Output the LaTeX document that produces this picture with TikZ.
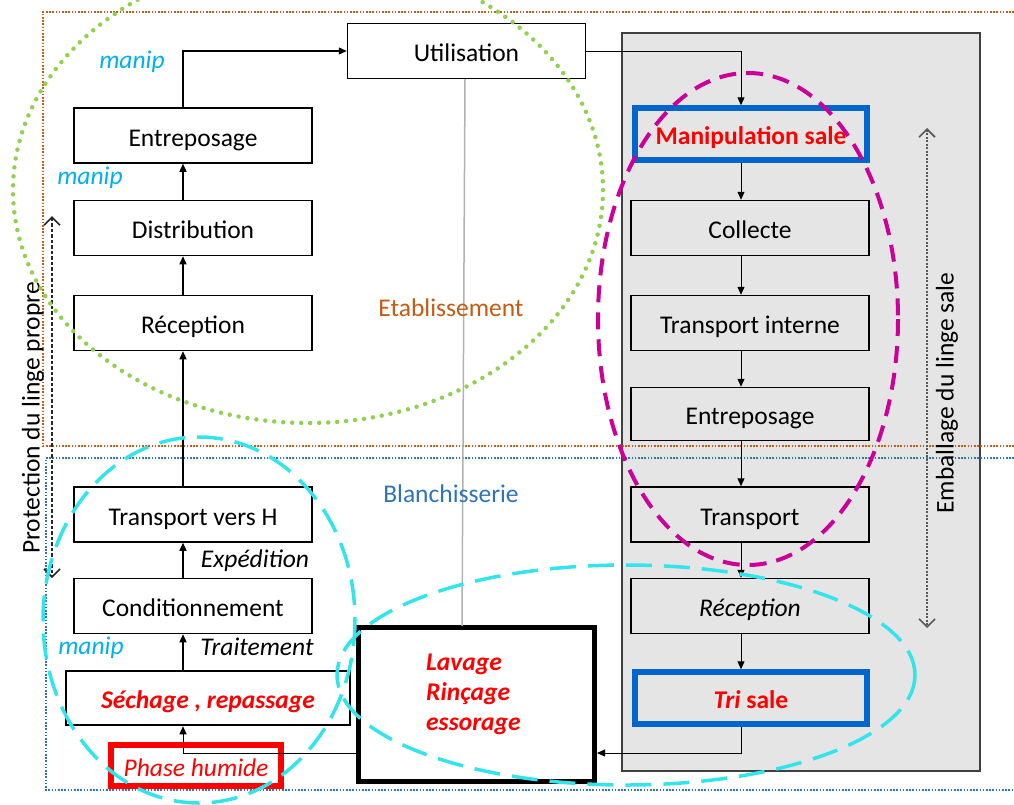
\documentclass[tikz,border=0pt]{standalone}
\usepackage{fontspec}
\setmainfont{Carlito}
\usetikzlibrary{arrows.meta}
\definecolor{manipc}{RGB}{0,176,240}
\definecolor{etabc}{RGB}{197,90,17}
\definecolor{blanc}{RGB}{46,116,181}
\definecolor{boxblue}{RGB}{0,102,204}
\definecolor{magc}{RGB}{204,0,153}
\definecolor{cyanc}{RGB}{50,228,236}
\definecolor{greenc}{RGB}{146,208,80}
\definecolor{panelc}{RGB}{229,229,229}
\definecolor{redc}{RGB}{255,0,0}
\newcommand\fsz{\fontsize{25.5}{30}\selectfont}
\tikzset{
  stepbox/.style={draw=black, line width=1.5pt, minimum width=238pt, minimum height=55pt, inner sep=0pt, font=\fsz, text height=21pt, text depth=0pt},
  leftbox/.style={stepbox, fill=white},
  rightbox/.style={stepbox},
  bluebox/.style={draw=boxblue, line width=5.5pt, minimum width=232pt, minimum height=52pt, inner sep=0pt, font=\fsz\bfseries, text=redc, text height=21pt, text depth=0pt},
  arr/.style={-{Triangle[length=8pt,width=7pt]}, line width=1.3pt},
  arrthin/.style={-{Triangle[length=8pt,width=7pt]}, line width=1pt},
  lbl/.style={font=\fsz, inner sep=0pt},
  manip/.style={lbl, text=manipc, font=\fsz\itshape},
  frame/.style={line width=2pt, dash pattern=on 1.6pt off 1.6pt},
  barbs/.style={{Straight Barb[length=8pt,width=16pt,line width=1.6pt]}-{Straight Barb[length=8pt,width=16pt,line width=1.6pt]}},
}
\begin{document}
\begin{tikzpicture}[x=1pt,y=-1pt]
\useasboundingbox (0,0) rectangle (1014,804);
% grey panel
\draw[line width=1.5pt, draw=black!75, fill=panelc] (622,33) rectangle (980,771);
% frames
\draw[etabc, frame] (1014,12) -- (43,12) -- (43,446) -- (1014,446);
\draw[blanc, frame] (1014,458) -- (46,458) -- (46,790) -- (1014,790);
% column coordinates
\coordinate (Lc) at (183,0);
\coordinate (Rc) at (741,0);
% left boxes
\node[leftbox] (util) at (466.5,51) {Utilisation};
\node[leftbox] (entrL) at (193,135.5) {Entreposage};
\node[leftbox] (distr) at (193,228) {Distribution};
\node[leftbox] (recL) at (193,323) {Réception};
\node[leftbox] (trH) at (193,514.5) {Transport vers H};
\node[leftbox] (cond) at (193,606) {Conditionnement};
\node[leftbox, line width=2.5pt, minimum width=284pt, minimum height=54pt, font=\fsz\bfseries\itshape, text=redc] (sech) at (208,698) {Séchage , repassage};
\node[draw=redc, line width=6pt, fill=white, minimum width=170pt, minimum height=41pt, inner sep=0pt, font=\fsz\itshape, text=redc, text height=21pt, text depth=0pt] (phase) at (196,765.5) {Phase humide};
\node[draw=black, line width=5pt, fill=white, minimum width=236pt, minimum height=154pt, inner sep=0pt] (lav) at (476.5,704.5) {};
\node[anchor=west, align=left, inner sep=0pt, font=\fontsize{25.5}{30}\selectfont\bfseries\itshape, text=redc] (lavt) at (426,694) {Lavage\\Rinçage\\essorage};
% right boxes
\node[bluebox] (manS) at (751,134) {Manipulation sale};
\node[rightbox] (coll) at (750,228) {Collecte};
\node[rightbox] (trI) at (750,323) {Transport interne};
\node[rightbox, minimum height=53pt] (entrR) at (750,414) {Entreposage};
\node[rightbox] (trR) at (750,514.5) {Transport};
\node[rightbox, font=\fsz\itshape] (recR) at (750,606) {Réception};
\node[bluebox] (tri) at (751,698) {\textit{Tri} sale};
% gray link
\coordinate (gtop) at (465,79);
\coordinate (gbot) at (462,626);
\draw[black!30, line width=1.5pt] (gtop) -- (gbot);
% left column arrows
\draw[arr] (distr.north -| Lc) -- (entrL.south -| Lc);
\draw[arr] (recL.north -| Lc) -- (distr.south -| Lc);
\draw[arr] (trH.north -| Lc) -- (recL.south -| Lc);
\draw[arr] (cond.north -| Lc) -- (trH.south -| Lc);
\draw[arr] (sech.north -| Lc) -- (cond.south -| Lc);
\coordinate (uturn) at (183,51);
\draw[arr] (entrL.north -| Lc) -- (uturn) -- (util.west);
\coordinate (lavturn) at (183,753);
\draw[arr, line width=1pt] (lav.west |- lavturn) -- (lavturn) -- (sech.south -| Lc);
% right column arrows
\coordinate (rturn) at (741,51);
\draw[arrthin] (util.east) -- (rturn) -- (manS.north -| Rc);
\draw[arrthin] (manS.south -| Rc) -- (coll.north -| Rc);
\draw[arrthin] (coll.south -| Rc) -- (trI.north -| Rc);
\draw[arrthin] (trI.south -| Rc) -- (entrR.north -| Rc);
\draw[arrthin] (entrR.south -| Rc) -- (trR.north -| Rc);
\draw[arrthin] (trR.south -| Rc) -- (recR.north -| Rc);
\draw[arrthin] (recR.south -| Rc) -- (tri.north -| Rc);
\coordinate (triturn) at (741,753);
\draw[arrthin] (tri.south -| Rc) -- (triturn) -- (lav.east |- triturn);
% labels
\node[manip] (m1) at (132,62) {manip};
\node[manip] (m2) at (90,178) {manip};
\node[manip] (m3) at (91,648) {manip};
\node[lbl, font=\fsz\itshape] (exp) at (255,561) {Expédition};
\node[lbl, font=\fsz\itshape] (trait) at (257,647) {Traitement};
\node[lbl, text=etabc] (etab) at (451,308) {Etablissement};
\node[lbl, text=blanc] (blan) at (451,494) {Blanchisserie};
\node[lbl, rotate=90] (prot) at (33,418) {Protection du linge propre};
\node[lbl, rotate=90] (emb) at (947,393) {Emballage du linge sale};
% double arrows
\coordinate (pa) at (52,216);
\coordinate (pb) at (52,578);
\draw[barbs, dash pattern=on 3.5pt off 2pt, line width=1.5pt, black!85] (pa) -- (pb);
\coordinate (ea) at (927,128);
\coordinate (eb) at (927,628);
\draw[barbs, dash pattern=on 2pt off 1.5pt, line width=1.4pt, black!65] (ea) -- (eb);
% ellipses
\draw[greenc, line width=4.5pt, line cap=round, dash pattern=on 0pt off 9pt] (308,190) ellipse [x radius=295, y radius=233];
\draw[magc, line width=4pt, dash pattern=on 17pt off 10pt] (748,319) ellipse [x radius=150, y radius=246];
\draw[cyanc, line width=3.5pt, dash pattern=on 26pt off 12pt] (199,620) ellipse [x radius=156, y radius=183];
\draw[cyanc, line width=3.5pt, dash pattern=on 26pt off 12pt] (626,675) ellipse [x radius=289, y radius=110];
\end{tikzpicture}
\end{document}
